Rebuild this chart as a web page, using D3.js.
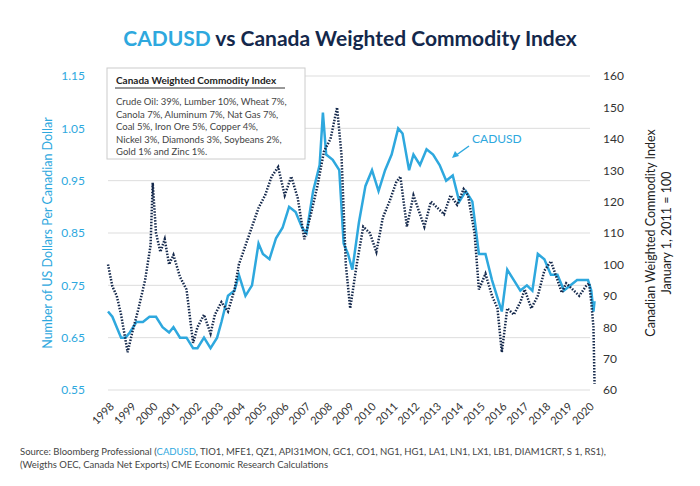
<!DOCTYPE html><html><head><meta charset="utf-8">
<script src="https://cdn.jsdelivr.net/npm/d3@7"></script>
<style>body{margin:0;background:#fff}text{font-family:Lato,"Open Sans",sans-serif}</style></head><body>
<svg id="c" width="700" height="486"></svg>
<script>
const cadT=[1998.0,1998.2,1998.4,1998.6,1998.8,1999.0,1999.3,1999.6,1999.9,2000.2,2000.5,2000.8,2001.0,2001.3,2001.6,2001.9,2002.1,2002.4,2002.7,2003.0,2003.2,2003.5,2003.8,2004.0,2004.3,2004.6,2004.9,2005.1,2005.4,2005.7,2006.0,2006.3,2006.6,2006.9,2007.1,2007.4,2007.7,2007.85,2008.0,2008.3,2008.6,2008.8,2009.0,2009.2,2009.5,2009.8,2010.1,2010.4,2010.7,2011.0,2011.3,2011.5,2011.8,2012.0,2012.3,2012.6,2012.9,2013.2,2013.5,2013.8,2014.1,2014.4,2014.7,2015.0,2015.3,2015.6,2015.9,2016.05,2016.3,2016.6,2016.9,2017.2,2017.45,2017.7,2018.0,2018.3,2018.6,2018.9,2019.2,2019.5,2019.8,2020.0,2020.15,2020.25,2020.3];
const cadV=[0.70,0.69,0.67,0.65,0.65,0.66,0.68,0.68,0.69,0.69,0.67,0.66,0.67,0.65,0.65,0.63,0.63,0.65,0.63,0.65,0.68,0.73,0.74,0.77,0.73,0.75,0.83,0.81,0.80,0.84,0.86,0.90,0.89,0.86,0.85,0.93,0.98,1.08,1.00,0.99,0.97,0.83,0.81,0.78,0.87,0.94,0.97,0.93,0.97,1.00,1.05,1.04,0.97,1.00,0.98,1.01,1.00,0.98,0.95,0.96,0.91,0.93,0.91,0.81,0.81,0.76,0.72,0.70,0.78,0.76,0.74,0.75,0.74,0.81,0.80,0.77,0.77,0.74,0.75,0.76,0.76,0.76,0.74,0.70,0.72];
const comT=[1998.0,1998.2,1998.4,1998.6,1998.9,1999.1,1999.4,1999.7,1999.95,2000.05,2000.2,2000.4,2000.6,2000.8,2001.0,2001.3,2001.6,2001.9,2002.1,2002.4,2002.7,2002.9,2003.2,2003.5,2003.8,2004.0,2004.3,2004.6,2004.9,2005.2,2005.5,2005.8,2006.1,2006.4,2006.7,2007.0,2007.3,2007.6,2007.9,2008.2,2008.5,2008.7,2008.9,2009.1,2009.4,2009.7,2010.0,2010.3,2010.6,2010.9,2011.2,2011.4,2011.7,2012.0,2012.3,2012.5,2012.8,2013.1,2013.4,2013.7,2014.0,2014.3,2014.5,2014.8,2015.0,2015.3,2015.6,2015.85,2016.05,2016.3,2016.6,2016.9,2017.1,2017.4,2017.7,2018.0,2018.3,2018.6,2018.8,2019.0,2019.3,2019.6,2019.9,2020.05,2020.15,2020.25,2020.3];
const comV=[100,93,90,84,72,78,86,95,106,126,110,104,108,100,103,96,92,75,80,84,78,84,88,85,92,100,106,112,118,122,128,131,122,128,121,108,116,125,136,140,150,135,100,86,100,112,110,104,115,120,126,128,112,122,116,112,120,118,116,122,119,124,122,110,92,97,90,86,72,86,84,88,92,86,90,98,101,95,91,94,92,90,93,94,88,80,62,66];
const leftTicks=[0.55,0.65,0.75,0.85,0.95,1.05,1.15];
const rightTicks=[60,70,80,90,100,110,120,130,140,150,160];
const years=d3.range(1998,2021);
const blue="#2ea8de",navy="#14284b";
const svg=d3.select("#c");
const L=108,R=590,T=76,B=390;
const x=d3.scaleLinear().domain([1998,2020]).range([L,588]);
const yl=d3.scaleLinear().domain([0.55,1.15]).range([B,T]);
const yr=d3.scaleLinear().domain([60,160]).range([B,T]);
svg.append("g").selectAll("line").data(leftTicks).join("line").attr("x1",L).attr("x2",R).attr("y1",d=>yl(d)).attr("y2",d=>yl(d)).attr("stroke","#ddd");
const ga=svg.append("g").attr("transform",`translate(${L-20},0)`).call(d3.axisLeft(yl).tickValues(leftTicks).tickFormat(d3.format(".2f")).tickSize(0));
ga.select(".domain").remove();ga.selectAll("text").attr("fill",blue).style("font-size","12px");
const gr=svg.append("g").attr("transform",`translate(${R+10},0)`).call(d3.axisRight(yr).tickValues(rightTicks).tickSize(0));
gr.select(".domain").remove();gr.selectAll("text").attr("fill","#333").style("font-size","12px");
const gx=svg.append("g").attr("transform",`translate(0,${B+8})`).call(d3.axisBottom(x).tickValues(years).tickFormat(d3.format("d")).tickSize(0));
gx.select(".domain").remove();gx.selectAll("text").attr("fill","#333").style("font-size","11px").attr("text-anchor","end").attr("transform","rotate(-45)").attr("dx","-2").attr("dy","8");
svg.append("path").datum(cadT.map((t,i)=>[t,cadV[i]])).attr("fill","none").attr("stroke",blue).attr("stroke-width",2.5).attr("d",d3.line().x(d=>x(d[0])).y(d=>yl(d[1])));
svg.append("path").datum(comT.map((t,i)=>[t,comV[i]])).attr("fill","none").attr("stroke",navy).attr("stroke-width",2.5).attr("stroke-dasharray","1.5,1.5").attr("d",d3.line().x(d=>x(d[0])).y(d=>yr(d[1])));
const t=svg.append("text").attr("x",350).attr("y",46).attr("text-anchor","middle").style("font-size","21px").style("font-weight","bold");
t.append("tspan").attr("fill",blue).text("CADUSD");t.append("tspan").attr("fill",navy).text(" vs Canada Weighted Commodity Index");
svg.append("text").attr("transform","translate(52,233) rotate(-90)").attr("text-anchor","middle").attr("fill",blue).style("font-size","12.5px").text("Number of US Dollars Per Canadian Dollar");
svg.append("text").attr("transform","translate(655,233) rotate(-90)").attr("text-anchor","middle").attr("fill","#222").style("font-size","12.5px").text("Canadian Weighted Commodity Index");
svg.append("text").attr("transform","translate(671,233) rotate(-90)").attr("text-anchor","middle").attr("fill","#222").style("font-size","12.5px").text("January 1, 2011 = 100");
svg.append("rect").attr("x",107).attr("y",68).attr("width",198).attr("height",91).attr("fill","#fff").attr("stroke","#ccc");
svg.append("text").attr("x",116).attr("y",84).attr("fill","#222").style("font-size","10px").style("font-weight","bold").text("Canada Weighted Commodity Index");
svg.append("line").attr("x1",115).attr("x2",285).attr("y1",88).attr("y2",88).attr("stroke","#333");
["Crude Oil: 39%, Lumber 10%, Wheat 7%,","Canola 7%, Aluminum 7%, Nat Gas 7%,","Coal 5%, Iron Ore 5%, Copper 4%,","Nickel 3%, Diamonds 3%, Soybeans 2%,","Gold 1% and Zinc 1%."].forEach((s,i)=>svg.append("text").attr("x",116).attr("y",105+i*12.6).attr("fill","#444").style("font-size","9.5px").text(s));
svg.append("text").attr("x",472).attr("y",143).attr("fill",blue).style("font-size","12px").text("CADUSD");
svg.append("line").attr("x1",469).attr("y1",146).attr("x2",455).attr("y2",156).attr("stroke",blue).attr("stroke-width",1.5);
svg.append("path").attr("d","M452,158 L455,151 L459,156 Z").attr("fill",blue);
const s=svg.append("text").attr("x",20).attr("y",455).attr("fill","#444").style("font-size","9.5px");
s.append("tspan").text("Source: Bloomberg Professional (");s.append("tspan").attr("fill",blue).text("CADUSD");
s.append("tspan").text(", TIO1, MFE1, QZ1, API31MON, GC1, CO1, NG1, HG1, LA1, LN1, LX1, LB1, DIAM1CRT, S 1, RS1),");
svg.append("text").attr("x",20).attr("y",468).attr("fill","#444").style("font-size","9.5px").text("(Weigths OEC, Canada Net Exports) CME Economic Research Calculations");
</script></body></html>
